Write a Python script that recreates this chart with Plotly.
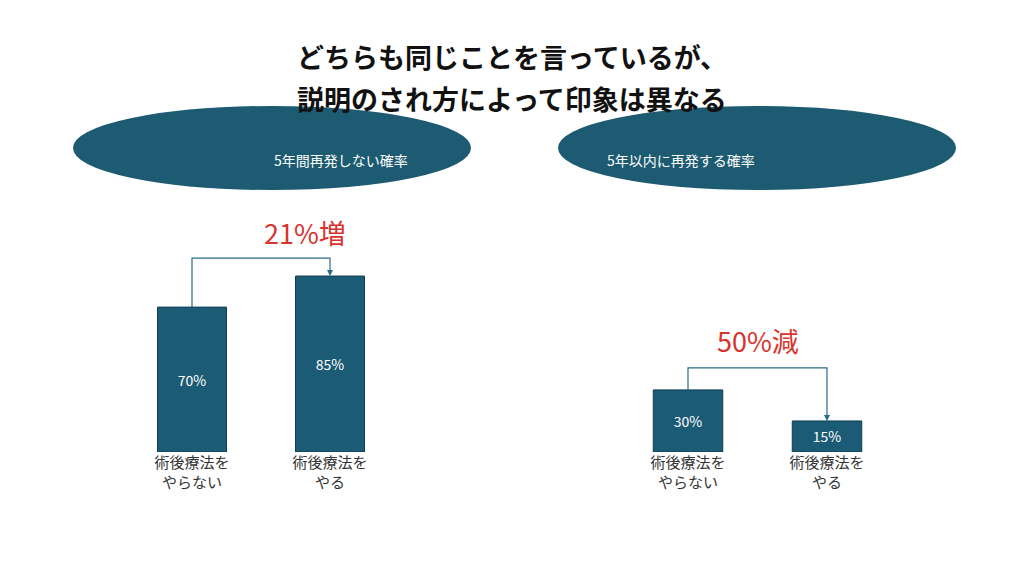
import plotly.graph_objects as go

# data
cats = ["術後療法を<br>やらない", "術後療法を<br>やる"]
left_vals = [70, 85]
right_vals = [30, 15]
left_title = "5年間再発しない確率"
right_title = "5年以内に再発する確率"
left_change = "21%増"
right_change = "50%減"
title_lines = ["どちらも同じことを言っているが、", "説明のされ方によって印象は異なる"]

bar_col = "#1b5b75"
red = "#d8342d"
W, H = 1024, 578
OFF = 8  # page body margin

def px(x):
    return (x - OFF) / W

def py(y):
    return (H - (y - OFF)) / H

fig = go.Figure()
for vals, xa, ya in [(left_vals, "x", "y"), (right_vals, "x2", "y2")]:
    fig.add_trace(go.Bar(
        x=[0, 1], y=vals, xaxis=xa, yaxis=ya, width=0.5,
        marker=dict(color=bar_col, line=dict(color="#123f52", width=1)),
        text=[f"{v}%" for v in vals], textposition="inside", insidetextanchor="middle",
        textfont=dict(color="white", size=14, family="Noto Sans CJK JP"),
        showlegend=False, hoverinfo="skip"))

ydom = [py(452), py(245)]
ax_common = dict(showgrid=False, zeroline=False, showline=False, fixedrange=True)
fig.update_layout(
    width=W, height=H, margin=dict(l=0, r=0, t=0, b=0),
    paper_bgcolor="white", plot_bgcolor="white",
    font=dict(family="Noto Sans CJK JP", color="#333"),
    xaxis=dict(domain=[px(123), px(399)], range=[-0.5, 1.5], tickvals=[0, 1], ticktext=cats,
               tickfont=dict(size=15, color="#333"), ticks="", **ax_common),
    xaxis2=dict(domain=[px(618.5), px(896.5)], range=[-0.5, 1.5], tickvals=[0, 1], ticktext=cats,
                tickfont=dict(size=15, color="#333"), ticks="", **ax_common),
    yaxis=dict(domain=ydom, range=[0, 100], visible=False, **ax_common),
    yaxis2=dict(domain=ydom, range=[0, 100], visible=False, anchor="x2", **ax_common),
)

# connectors
def connector(xa, ya, v0, v1, top):
    fig.add_shape(type="path", xref=xa, yref=ya,
                  path=f"M 0 {v0} L 0 {top} L 1 {top} L 1 {v1 + 2}",
                  line=dict(color="#2a6a86", width=1.2))
    fig.add_annotation(x=1, y=v1, ax=1, ay=v1 + 3, xref=xa, yref=ya, axref=xa, ayref=ya,
                       showarrow=True, arrowhead=2, arrowsize=1, arrowwidth=1.2,
                       arrowcolor="#2a6a86", text="")

connector("x", "y", left_vals[0], left_vals[1], 93.7)
connector("x2", "y2", right_vals[0], right_vals[1], 40.6)
fig.add_annotation(x=px(262), y=py(233), xref="paper", yref="paper", text=left_change,
                   showarrow=False, font=dict(size=27, color=red))
fig.add_annotation(x=0.5, y=54, xref="x2", yref="y2", text=right_change, showarrow=False,
                   font=dict(size=27, color=red))

# ellipse headers
for cx, label in [(272, left_title), (757, right_title)]:
    fig.add_shape(type="circle", xref="paper", yref="paper",
                  x0=px(cx - 198), x1=px(cx + 198), y0=py(189), y1=py(107),
                  fillcolor="#1d5b72", line=dict(color="#1d5b72"))
    fig.add_annotation(x=px(cx), y=py(148), xref="paper", yref="paper",
                       text=label, showarrow=False, font=dict(size=14, color="white"))

for yy, line in zip([35, 77], title_lines):
    fig.add_annotation(x=px(512), y=py(yy), xref="paper", yref="paper", showarrow=False,
                       text=f"<b>{line}</b>", font=dict(size=27, color="#111"))

fig.write_html("out.html")
